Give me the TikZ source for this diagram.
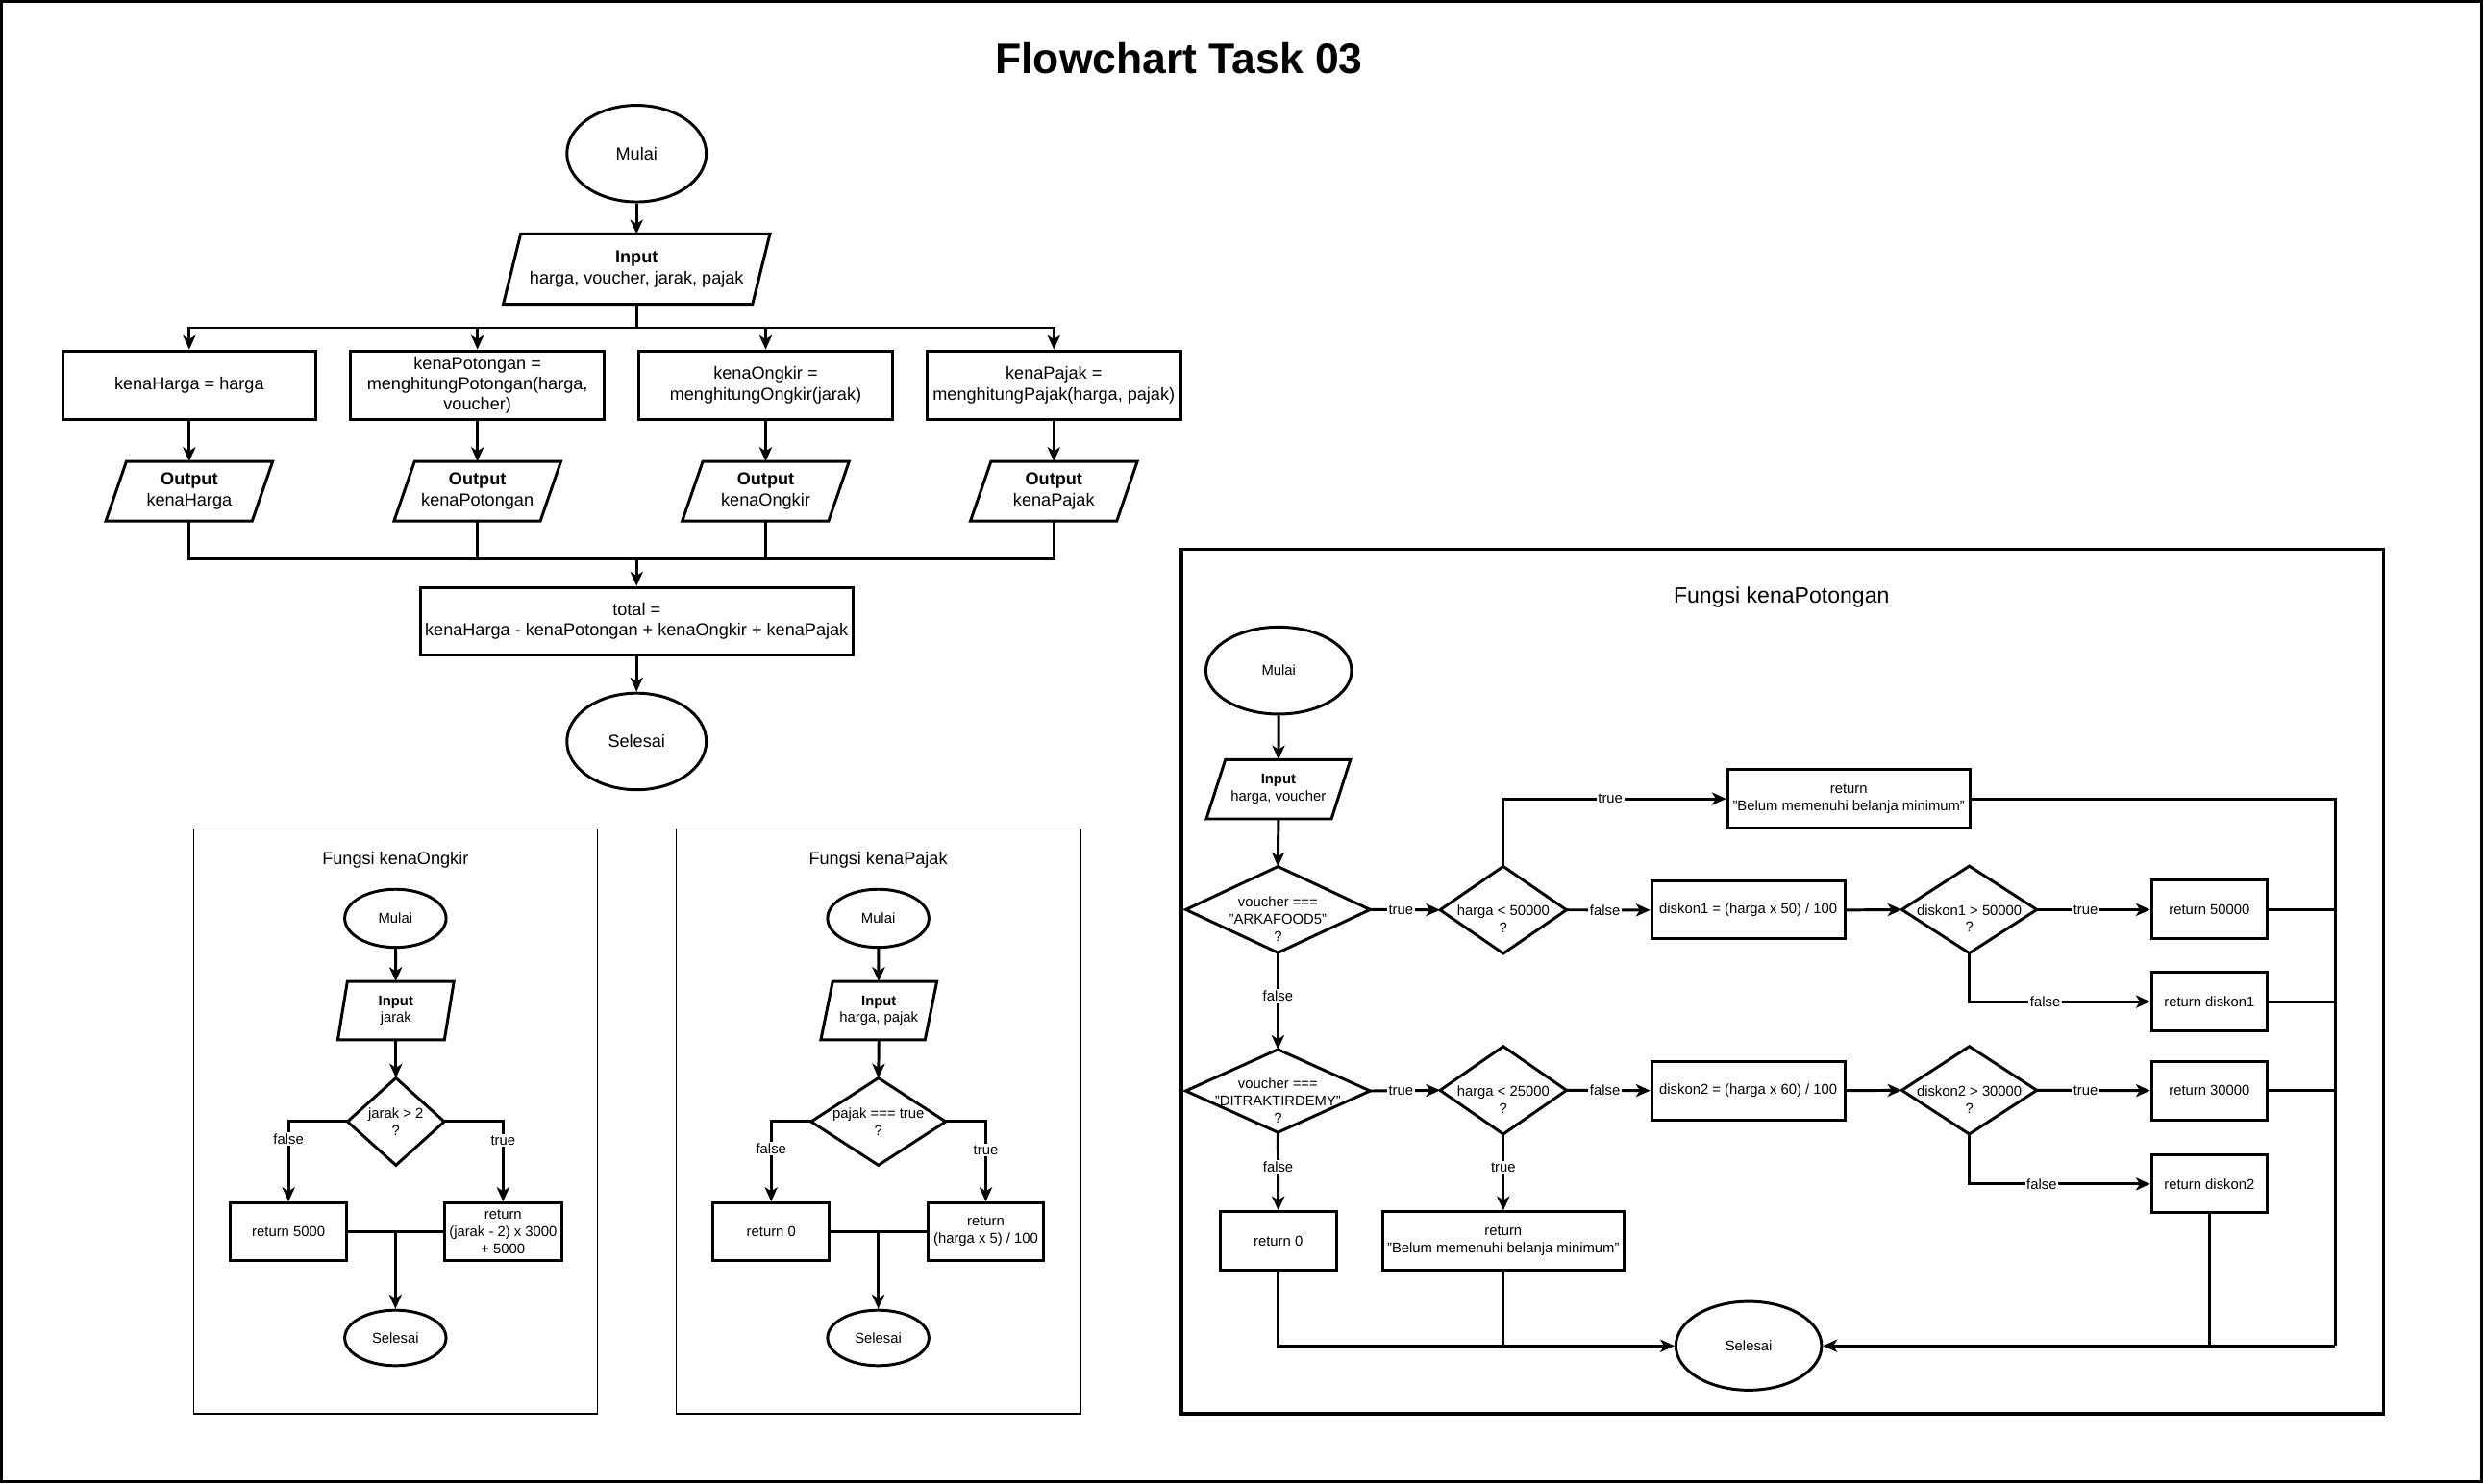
\documentclass[tikz,border=0pt]{standalone}
\usepackage{fontspec}
\setmainfont{Liberation Sans}
\usetikzlibrary{shapes.geometric,arrows.meta,calc}

\newcommand\fmain{\fontsize{11}{13}\selectfont}
\newcommand\fsub{\fontsize{9}{10.8}\selectfont}
\newcommand\ftitle{\fontsize{27}{32}\selectfont\bfseries}
\newcommand\fhead{\fontsize{14}{17}\selectfont}
\newcommand\paraout[2]{\draw[shp] ([xshift=#2]#1.north west) -- (#1.north east) -- ([xshift=-#2]#1.south east) -- (#1.south west) -- cycle;}
\newcommand\diamout[1]{\draw[shp] (#1.north) -- (#1.east) -- (#1.south) -- (#1.west) -- cycle;}

\tikzset{
  shp/.style={line width=1.8pt, line join=miter},
  box/.style={draw, rectangle, line width=1.8pt, inner sep=1pt, align=center},
  ghost/.style={rectangle, inner sep=1pt, align=center},
  dtext/.style={inner sep=0pt, align=center, font=\fsub},
  term/.style={draw, ellipse, line width=1.8pt, inner sep=0pt},
  flow/.style={line width=1.8pt, -{Stealth[length=9pt,width=8pt,inset=2.5pt]}},
  wire/.style={line width=1.8pt},
  lbl/.style={fill=white, inner sep=1pt, font=\fsub},
  tmain/.style={font=\fmain},
  tsub/.style={font=\fsub},
}

\begin{document}
\begin{tikzpicture}[x=1pt,y=-1pt]
\fill[white] (0,0) rectangle (1568,936.7);
\useasboundingbox (0,0) rectangle (1568,936.7);
\draw[line width=2pt] (1,1) rectangle (1567,935.7);

\node[font=\ftitle, anchor=base] (title) at (744.5,46.6) {Flowchart Task 03};

% ---------------- main flowchart ----------------
\node[term, tmain, minimum width=88, minimum height=61] (mStart) at (402,97) {Mulai};
\node[ghost, tmain, minimum width=168, minimum height=44] (mIn) at (402,170) {\textbf{Input}\\harga, voucher, jarak, pajak};
\paraout{mIn}{11}
\coordinate (mSplit) at (402,207);
\node[box, tmain, minimum width=160, minimum height=43.3] (b1) at (119.5,243.3) {kenaHarga = harga};
\node[box, tmain, minimum width=160, minimum height=43.3] (b2) at (301.5,243.3) {kenaPotongan =\\menghitungPotongan(harga,\\voucher)};
\node[box, tmain, minimum width=160, minimum height=43.3] (b3) at (483.5,243.3) {kenaOngkir =\\menghitungOngkir(jarak)};
\node[box, tmain, minimum width=160, minimum height=43.3] (b4) at (665.5,243.3) {kenaPajak =\\menghitungPajak(harga, pajak)};
\node[ghost, tmain, minimum width=105, minimum height=37.3] (o1) at (119.5,310.3) {\textbf{Output}\\kenaHarga};
\node[ghost, tmain, minimum width=105, minimum height=37.3] (o2) at (301.5,310.3) {\textbf{Output}\\kenaPotongan};
\node[ghost, tmain, minimum width=105, minimum height=37.3] (o3) at (483.5,310.3) {\textbf{Output}\\kenaOngkir};
\node[ghost, tmain, minimum width=105, minimum height=37.3] (o4) at (665.5,310.3) {\textbf{Output}\\kenaPajak};
\paraout{o1}{13}\paraout{o2}{13}\paraout{o3}{13}\paraout{o4}{13}
\coordinate (mJoin) at (402,353);
\node[box, tmain, minimum width=273.3, minimum height=42.8] (mTot) at (402,392.4) {total =\\kenaHarga - kenaPotongan + kenaOngkir + kenaPajak};
\node[term, tmain, minimum width=88, minimum height=61] (mEnd) at (402,468.3) {Selesai};

\draw[flow] (mStart) -- (mIn);
\draw[wire] (mIn.south) -- (mSplit);
\draw[flow] (mSplit) -| (b1.north);
\draw[flow] (mSplit) -| (b4.north);
\draw[flow] (b2.north |- mSplit) -- (b2.north);
\draw[flow] (b3.north |- mSplit) -- (b3.north);
\draw[flow] (b1) -- (o1);
\draw[flow] (b2) -- (o2);
\draw[flow] (b3) -- (o3);
\draw[flow] (b4) -- (o4);
\draw[wire] (o1.south) |- (mJoin) -| (o4.south);
\draw[wire] (o2.south) -- (o2.south |- mJoin);
\draw[wire] (o3.south) -- (o3.south |- mJoin);
\draw[flow] (mJoin) -- (mTot);
\draw[flow] (mTot) -- (mEnd);

% ---------------- Fungsi kenaOngkir ----------------
\draw[line width=0.8pt] (122.4,523.4) rectangle (377.4,892.9);
\node[tmain] (oTitle) at (249.7,543.3) {Fungsi kenaOngkir};
\node[term, tsub, minimum width=64, minimum height=36.7] (oStart) at (249.7,580) {Mulai};
\node[ghost, tsub, minimum width=72.9, minimum height=36.5] (oIn) at (250,638.3) {\textbf{Input}\\jarak};
\paraout{oIn}{6}
\node[ghost, tsub, minimum width=60.7, minimum height=54.7] (oDec) at (250,708.4) {jarak > 2\\?};
\diamout{oDec}
\node[box, tsub, minimum width=73.7, minimum height=36.5] (oF) at (182.2,778) {return 5000};
\node[box, tsub, minimum width=73.7, minimum height=36.5] (oT) at (317.7,778) {return\\(jarak - 2) x 3000\\+ 5000};
\node[term, tsub, minimum width=64, minimum height=35] (oEnd) at (249.7,845) {Selesai};

\draw[flow] (oStart) -- (oIn);
\draw[flow] (oIn.south) -- (oDec.north);
\draw[flow] (oDec.west) -| (oF.north) node[lbl, pos=0.61] {false};
\draw[flow] (oDec.east) -| (oT.north) node[lbl, pos=0.62] {true};
\draw[wire] (oF.east) -- (oT.west);
\draw[flow] (oEnd.north |- oF.east) -- (oEnd.north);

% ---------------- Fungsi kenaPajak ----------------
\draw[line width=0.8pt] (427,523.4) rectangle (682.4,892.9);
\node[tmain] (pTitle) at (554.6,543.3) {Fungsi kenaPajak};
\node[term, tsub, minimum width=64, minimum height=36.7] (pStart) at (554.6,580) {Mulai};
\node[ghost, tsub, minimum width=72.9, minimum height=36.5] (pIn) at (555,638.3) {\textbf{Input}\\harga, pajak};
\paraout{pIn}{7.5}
\node[ghost, tsub, minimum width=84.6, minimum height=54.7] (pDec) at (554.7,708.4) {pajak === true\\?};
\diamout{pDec}
\node[box, tsub, minimum width=73.4, minimum height=36.5] (pF) at (487,778) {return 0};
\node[box, tsub, minimum width=73.2, minimum height=36.5] (pT) at (622.5,778) {return\\(harga x 5) / 100};
\node[term, tsub, minimum width=64, minimum height=35] (pEnd) at (554.6,845) {Selesai};

\draw[flow] (pStart) -- (pIn);
\draw[flow] (pIn.south) -- (pDec.north);
\draw[flow] (pDec.west) -| (pF.north) node[lbl, pos=0.67] {false};
\draw[flow] (pDec.east) -| (pT.north) node[lbl, pos=0.68] {true};
\draw[wire] (pF.east) -- (pT.west);
\draw[flow] (pEnd.north |- pF.east) -- (pEnd.north);

% ---------------- Fungsi kenaPotongan ----------------
\draw[line width=2pt] (746,347) rectangle (1505,893);
\node[font=\fhead] (kTitle) at (1125,377.4) {Fungsi kenaPotongan};
\node[term, tsub, minimum width=92, minimum height=55] (kStart) at (807.5,423.5) {Mulai};
\node[ghost, tsub, minimum width=90.6, minimum height=37] (kIn) at (807.3,498.5) {\textbf{Input}\\harga, voucher};
\paraout{kIn}{12}
\node[ghost, minimum width=116, minimum height=54] (kD1) at (807,574.5) {};
\diamout{kD1}
\node[dtext] (kD1t) at ($(kD1.center)+(0,6)$) {voucher ===\\"ARKAFOOD5"\\?};
\node[ghost, minimum width=79.4, minimum height=54.6] (kD2) at (949.3,574.7) {};
\diamout{kD2}
\node[dtext] (kD2t) at ($(kD2.center)+(0,5.6)$) {harga < 50000\\?};
\node[box, tsub, minimum width=153, minimum height=37] (kBel1) at (1167.5,504.5) {return\\"Belum memenuhi belanja minimum"};
\node[box, tsub, minimum width=122, minimum height=36.5] (kDk1) at (1104,574.8) {diskon1 = (harga x 50) / 100};
\node[ghost, minimum width=84.8, minimum height=54.6] (kD3) at (1243.6,574.5) {};
\diamout{kD3}
\node[dtext] (kD3t) at ($(kD3.center)+(0,5.6)$) {diskon1 > 50000\\?};
\node[box, tsub, minimum width=73, minimum height=37] (kR50) at (1395.2,574.5) {return 50000};
\node[box, tsub, minimum width=73, minimum height=37] (kRd1) at (1395.2,632.6) {return diskon1};

\node[ghost, minimum width=116, minimum height=52] (kD4) at (807,689) {};
\diamout{kD4}
\node[dtext] (kD4t) at ($(kD4.center)+(0,6)$) {voucher ===\\"DITRAKTIRDEMY"\\?};
\node[ghost, minimum width=79.4, minimum height=55] (kD5) at (949.3,688.6) {};
\diamout{kD5}
\node[dtext] (kD5t) at ($(kD5.center)+(0,6)$) {harga < 25000\\?};
\node[box, tsub, minimum width=122, minimum height=37] (kDk2) at (1104,688.8) {diskon2 = (harga x 60) / 100};
\node[ghost, minimum width=84.8, minimum height=55] (kD6) at (1243.6,688.6) {};
\diamout{kD6}
\node[dtext] (kD6t) at ($(kD6.center)+(0,6)$) {diskon2 > 30000\\?};
\node[box, tsub, minimum width=73, minimum height=37] (kR30) at (1395.2,688.8) {return 30000};
\node[box, tsub, minimum width=73, minimum height=36.5] (kRd2) at (1395.2,747.8) {return diskon2};
\node[box, tsub, minimum width=73.7, minimum height=37] (kR0) at (807.2,783.9) {return 0};
\node[box, tsub, minimum width=152.6, minimum height=37] (kBel2) at (949.3,783.9) {return\\"Belum memenuhi belanja minimum"};
\node[term, tsub, minimum width=92, minimum height=56] (kEnd) at (1104.3,850) {Selesai};
\coordinate (kBus) at (1474.7,850);

\draw[flow] (kStart) -- (kIn);
\draw[flow] (kIn.south) -- (kD1.north);
\draw[flow] (kD1.east) -- (kD2.west) node[lbl, pos=0.44] {true};
\draw[flow] (kD2.north) |- (kBel1.west) node[lbl, pos=0.74] {true};
\draw[flow] (kD2.east) -- (kDk1.west) node[lbl, pos=0.46] {false};
\draw[flow] (kDk1.east) -- (kD3.west);
\draw[flow] (kD3.east) -- (kR50.west) node[lbl, pos=0.43] {true};
\draw[flow] (kD3.south) |- (kRd1.west) node[lbl, pos=0.71] {false};
\draw[flow] (kD1.south) -- (kD4.north) node[lbl, pos=0.45] {false};
\draw[flow] (kD4.east) -- (kD5.west) node[lbl, pos=0.44] {true};
\draw[flow] (kD5.east) -- (kDk2.west) node[lbl, pos=0.46] {false};
\draw[flow] (kDk2.east) -- (kD6.west);
\draw[flow] (kD6.east) -- (kR30.west) node[lbl, pos=0.43] {true};
\draw[flow] (kD6.south) |- (kRd2.west) node[lbl, pos=0.70] {false};
\draw[flow] (kD4.south) -- (kR0.north) node[lbl, pos=0.44] {false};
\draw[flow] (kD5.south) -- (kBel2.north) node[lbl, pos=0.44] {true};

\draw[wire] (kBel1.east) -| (kBus);
\draw[wire] (kR50.east) -- (kR50.east -| kBus);
\draw[wire] (kRd1.east) -- (kRd1.east -| kBus);
\draw[wire] (kR30.east) -- (kR30.east -| kBus);
\draw[wire] (kRd2.south) -- (kRd2.south |- kBus);
\draw[flow] (kBus) -- (kEnd.east);
\draw[flow] (kR0.south) |- (kEnd.west);
\draw[wire] (kBel2.south) -- (kBel2.south |- kEnd.west);
\end{tikzpicture}
\end{document}
